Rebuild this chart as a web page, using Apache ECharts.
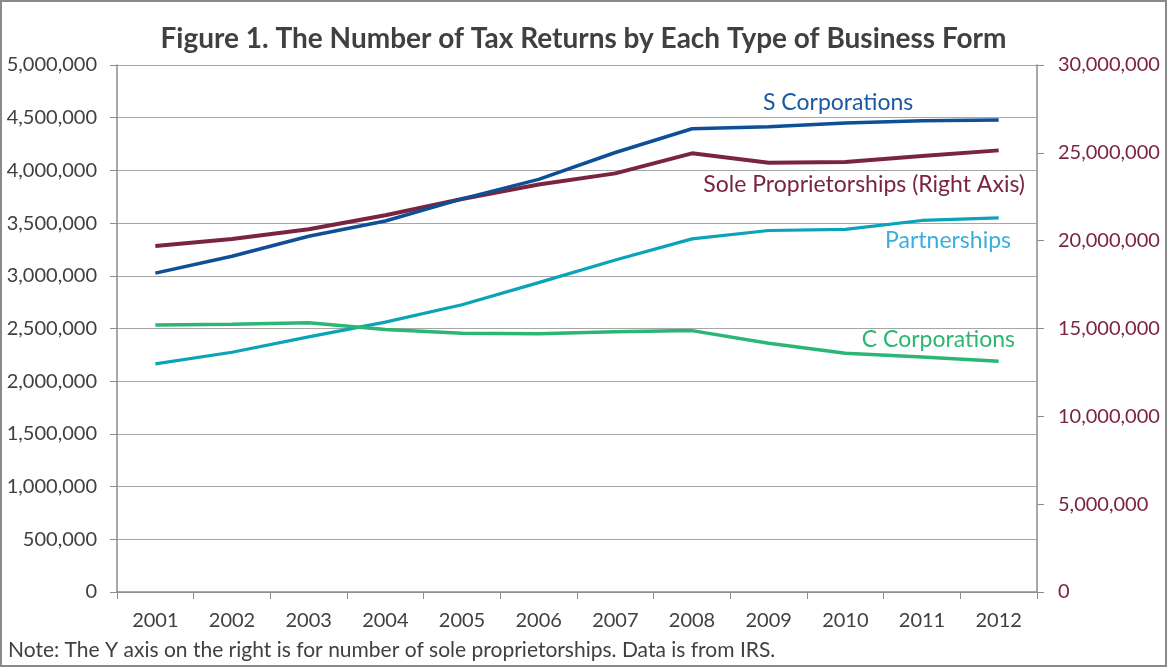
<!DOCTYPE html>
<html><head><meta charset="utf-8">
<script src="https://cdn.jsdelivr.net/npm/echarts@6/dist/echarts.min.js"></script>
<style>
html,body{margin:0;padding:0;background:#fff;}
#wrap{width:1167px;height:667px;box-sizing:border-box;border:2px solid #8a8a8a;position:relative;}
#c{position:absolute;left:-2px;top:-2px;width:1167px;height:667px;}
</style></head>
<body><div id="wrap"><div id="c"></div></div>
<script>
const years = ['2001','2002','2003','2004','2005','2006','2007','2008','2009','2010','2011','2012'];
const sCorporations = [3025000,3185000,3375000,3520000,3730000,3915000,4170000,4395000,4415000,4450000,4470000,4478000];
const soleProprietorships = [19700000,20100000,20650000,21450000,22370000,23200000,23830000,24970000,24440000,24480000,24820000,25140000];
const partnerships = [2165000,2275000,2420000,2560000,2725000,2935000,3150000,3350000,3430000,3440000,3525000,3550000];
const cCorporations = [2533000,2540000,2555000,2490000,2455000,2450000,2470000,2480000,2360000,2265000,2230000,2190000];
const leftTicks = {min:0,max:5000000,interval:500000};
const rightTicks = {min:0,max:30000000,interval:5000000};

const FONT = 'Lato';
const chart = echarts.init(document.getElementById('c'), null, {renderer:'canvas'});
const fmt = v => v.toLocaleString('en-US');
const axisGray = '#8c8c8c';
chart.setOption({
  animation:false,
  textStyle:{fontFamily:FONT},
  title:{text:'Figure 1. The Number of Tax Returns by Each Type of Business Form',left:'center',top:20,
    textStyle:{fontFamily:FONT,fontSize:28,fontWeight:'bold',color:'#404040'}},
  grid:{left:117,right:130,top:65,bottom:75,containLabel:false},
  xAxis:{type:'category',data:years,boundaryGap:true,
    axisLine:{lineStyle:{color:axisGray,width:1.5}},
    axisTick:{show:true,length:7,lineStyle:{color:axisGray}},
    axisLabel:{color:'#404040',fontSize:20,margin:19,fontFamily:FONT}},
  yAxis:[
    {type:'value',min:leftTicks.min,max:leftTicks.max,interval:leftTicks.interval,position:'left',
      axisLine:{show:true,lineStyle:{color:axisGray,width:1.5}},
      axisTick:{show:true,length:7,lineStyle:{color:axisGray}},
      splitLine:{show:true,lineStyle:{color:'#a6a6a6',width:1.2}},
      axisLabel:{color:'#404040',fontSize:20,margin:20,formatter:fmt,fontFamily:FONT}},
    {type:'value',min:rightTicks.min,max:rightTicks.max,interval:rightTicks.interval,position:'right',
      axisLine:{show:true,lineStyle:{color:axisGray,width:1.5}},
      axisTick:{show:true,length:7,lineStyle:{color:axisGray}},
      splitLine:{show:false},
      axisLabel:{color:'#7a2442',fontSize:20,margin:21,formatter:fmt,fontFamily:FONT}}
  ],
  series:[
    {name:'S Corporations',type:'line',data:sCorporations,yAxisIndex:0,symbol:'none',
      lineStyle:{color:'#0e4f96',width:3.5},z:4},
    {name:'Sole Proprietorships (Right Axis)',type:'line',data:soleProprietorships,yAxisIndex:1,symbol:'none',
      lineStyle:{color:'#7a2442',width:4},z:3},
    {name:'Partnerships',type:'line',data:partnerships,yAxisIndex:0,symbol:'none',
      lineStyle:{color:'#0aa3b8',width:3.2},z:2},
    {name:'C Corporations',type:'line',data:cCorporations,yAxisIndex:0,symbol:'none',
      lineStyle:{color:'#2bb673',width:3.5},z:2}
  ],
  graphic:[
    {type:'text',x:763,y:103,style:{text:'S Corporations',fill:'#1b5aa0',fontSize:23,fontFamily:FONT,align:'left',verticalAlign:'middle'}},
    {type:'text',x:1025,y:185,style:{text:'Sole Proprietorships (Right Axis)',fill:'#7a2442',fontSize:23,fontFamily:FONT,align:'right',verticalAlign:'middle'}},
    {type:'text',x:1011,y:241,style:{text:'Partnerships',fill:'#3aaee0',fontSize:23,fontFamily:FONT,align:'right',verticalAlign:'middle'}},
    {type:'text',x:1015,y:340,style:{text:'C Corporations',fill:'#2bb673',fontSize:23,fontFamily:FONT,align:'right',verticalAlign:'middle'}},
    {type:'text',x:8,y:650,style:{text:'Note: The Y axis on the right is for number of sole proprietorships. Data is from IRS.',fill:'#404040',fontSize:21,fontFamily:FONT,align:'left',verticalAlign:'middle'}}
  ]
});
</script></body></html>
